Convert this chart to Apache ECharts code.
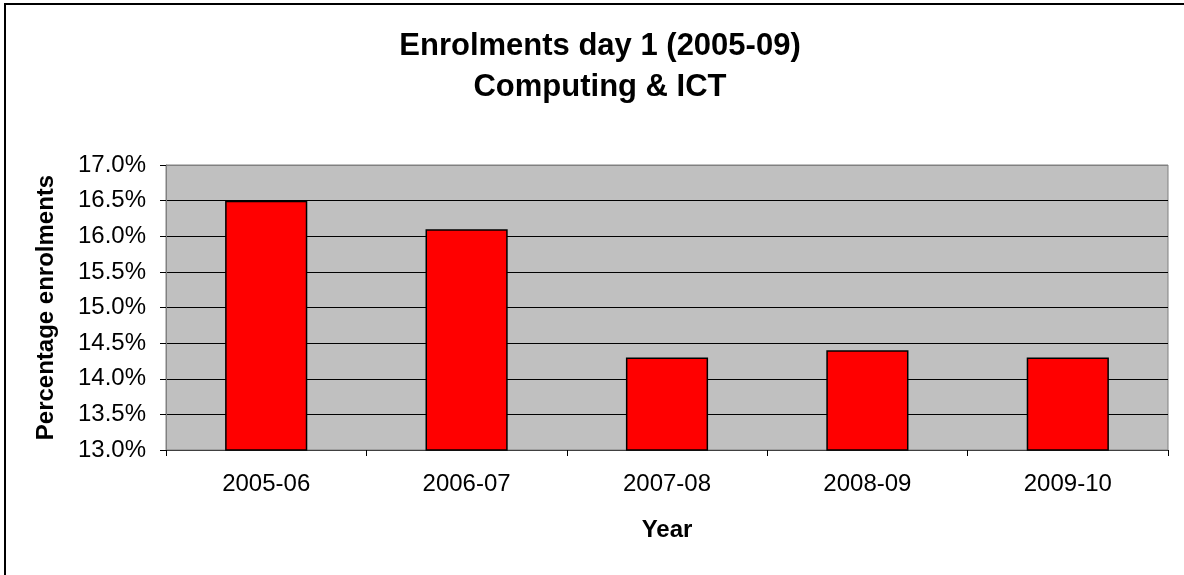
<!DOCTYPE html>
<html>
<head>
<meta charset="utf-8">
<script src="https://cdn.jsdelivr.net/npm/echarts@6/dist/echarts.min.js"></script>
<style>
  html, body { margin: 0; padding: 0; background: #fff; }
  #frame { position: absolute; left: 4px; top: 3px; width: 1300px; height: 700px; border-left: 2px solid #000; border-top: 2px solid #000; }
  #chart { position: absolute; left: 0; top: 0; width: 1184px; height: 575px; }
</style>
</head>
<body>
<div id="frame"></div>
<div id="chart"></div>
<script>
// Enrolments day 1, Computing & ICT
const years = ['2005-06', '2006-07', '2007-08', '2008-09', '2009-10']
const percentEnrolled = [16.5, 16.1, 14.3, 14.4, 14.3]
const yMin = 13.0
const yMax = 17.0
const yStep = 0.5

const font = '"Liberation Sans", Arial, sans-serif'

// black gridlines, the top one is the grey plot border
const gridColors = ['#000', '#000', '#000', '#000', '#000', '#000', '#000', '#000', '#808080']

const chart = echarts.init(document.getElementById('chart'))
chart.setOption({
  animation: false,
  title: {
    text: 'Enrolments day 1 (2005-09)\nComputing & ICT',
    left: 595, top: 21, textAlign: 'center',
    textStyle: { fontFamily: font, fontSize: 31, fontWeight: 'bold', color: '#000', lineHeight: 41 }
  },
  grid: {
    left: 166, top: 165, width: 1002, height: 285,
    show: true, backgroundColor: '#C0C0C0', borderColor: '#808080', borderWidth: 1
  },
  xAxis: {
    type: 'category',
    data: years,
    name: 'Year', nameLocation: 'middle', nameGap: 68,
    nameTextStyle: { fontFamily: font, fontSize: 24, fontWeight: 'bold', color: '#000' },
    axisLine: { lineStyle: { color: '#404040', width: 1 } },
    axisTick: { show: true, length: 6, lineStyle: { color: '#000' } },
    axisLabel: { fontFamily: font, fontSize: 24, color: '#000', margin: 22 }
  },
  yAxis: {
    type: 'value',
    min: yMin, max: yMax, interval: yStep,
    name: 'Percentage enrolments', nameLocation: 'middle', nameGap: 108,
    nameTextStyle: { fontFamily: font, fontSize: 24, fontWeight: 'bold', color: '#000' },
    axisLine: { show: true, lineStyle: { color: '#808080', width: 1 } },
    axisTick: { show: true, length: 6, lineStyle: { color: '#000' } },
    axisLabel: { fontFamily: font, fontSize: 24, color: '#000', margin: 20, formatter: v => v.toFixed(1) + '%' },
    splitLine: { lineStyle: { color: gridColors, width: 1 } }
  },
  series: [{
    type: 'bar',
    data: percentEnrolled,
    barWidth: '41%',
    itemStyle: { color: '#FF0000', borderColor: '#000', borderWidth: 1.5 }
  }]
})
</script>
</body>
</html>
